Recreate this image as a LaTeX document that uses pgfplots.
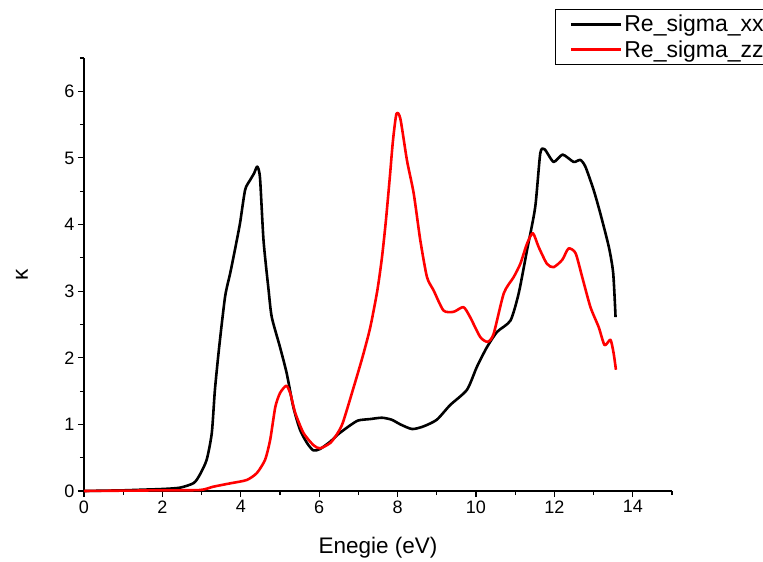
\documentclass[border=0pt]{standalone}
\usepackage{fontspec}
\setmainfont{Liberation Sans}
\usepackage{pgfplots}
\pgfplotsset{compat=1.18}

\begin{document}
\begin{tikzpicture}
\begin{axis}[
  scale only axis, width=588bp, height=433bp,
  xmin=0, xmax=15, ymin=0, ymax=6.5,
  axis x line*=bottom, axis y line*=left,
  axis line style={line width=1.1pt},
  xtick={0,2,...,14}, minor xtick={1,3,...,15},
  ytick={0,1,...,6}, minor ytick={0.5,1.5,...,6.5},
  tick align=outside, major tick length=6bp, minor tick length=4bp,
  every tick/.style={black, line width=1.1pt},
  /pgf/number format/assume math mode=true,
  tick label style={font=\fontsize{18bp}{20bp}\selectfont},
  label style={font=\fontsize{22.5bp}{26bp}\selectfont},
  xlabel={Enegie (eV)}, ylabel={κ},
  xlabel style={at={(axis description cs:0.5,0)}, anchor=center, yshift=-57bp},
  ylabel style={at={(axis description cs:0,0.5)}, anchor=center, yshift=62bp},
  clip=false,
  legend style={at={(0.801,1.114)}, anchor=north west, draw=black, line width=0.8pt,
    font=\fontsize{23bp}{27bp}\selectfont, inner xsep=14bp, inner ysep=4bp,
    row sep=3.5bp},
  legend cell align=left,
  legend image code/.code={\draw[#1, line width=3bp] (0bp,0bp) -- (50bp,0bp);},
]
\addplot[black, line width=2.6pt, line join=round, smooth, tension=0.4] coordinates {
(0,0.0)(0.5,0.005)(1,0.01)(1.5,0.02)(2,0.03)(2.45,0.05)(2.8,0.12)(2.96,0.25)
(3.13,0.47)(3.26,0.87)(3.34,1.52)(3.45,2.17)(3.6,2.92)(3.73,3.27)(3.85,3.62)
(3.98,4.02)(4.11,4.52)(4.24,4.67)(4.34,4.77)(4.42,4.87)(4.49,4.7)(4.58,3.76)
(4.71,3.01)(4.79,2.61)(5.0,2.16)(5.17,1.77)(5.34,1.26)(5.51,0.92)(5.69,0.72)
(5.85,0.61)(6.02,0.63)(6.28,0.74)(6.5,0.86)(6.8,0.99)(7.0,1.06)(7.3,1.08)
(7.6,1.1)(7.85,1.07)(8.07,1.0)(8.37,0.93)(8.66,0.97)(9.0,1.07)(9.34,1.29)
(9.77,1.52)(10.02,1.86)(10.28,2.16)(10.54,2.39)(10.88,2.56)(11.09,2.97)
(11.3,3.61)(11.51,4.26)(11.64,5.07)(11.75,5.13)(11.98,4.94)(12.21,5.05)
(12.49,4.94)(12.66,4.97)(12.79,4.87)(13.0,4.52)(13.17,4.17)(13.39,3.66)
(13.5,3.27)(13.56,2.61)
};
\addlegendentry{Re\_sigma\_xx}
\addplot[red, line width=2.6pt, line join=round, smooth, tension=0.4] coordinates {
(0,0)(1,0.005)(2,0.01)(2.96,0.015)(3.3,0.065)(3.73,0.115)(4.15,0.165)(4.41,0.27)
(4.62,0.47)(4.75,0.77)(4.88,1.26)(5.0,1.47)(5.16,1.58)(5.26,1.47)(5.39,1.17)
(5.6,0.87)(5.85,0.69)(6.02,0.64)(6.28,0.72)(6.45,0.85)(6.6,1.02)(6.85,1.5)
(7.1,2.0)(7.3,2.45)(7.48,3.0)(7.6,3.5)(7.7,4.05)(7.8,4.7)(7.88,5.25)(7.97,5.66)
(8.07,5.59)(8.24,4.96)(8.41,4.47)(8.58,3.76)(8.75,3.21)(8.92,3.01)(9.17,2.71)
(9.43,2.69)(9.68,2.76)(9.85,2.61)(10.11,2.31)(10.3,2.24)(10.45,2.36)(10.71,2.97)
(10.96,3.21)(11.13,3.41)(11.3,3.71)(11.45,3.87)(11.6,3.66)(11.81,3.41)
(11.98,3.36)(12.2,3.47)(12.36,3.64)(12.54,3.57)(12.71,3.21)(12.92,2.76)
(13.13,2.46)(13.28,2.19)(13.43,2.27)(13.51,2.07)(13.57,1.82)
};
\addlegendentry{Re\_sigma\_zz}
\end{axis}
\pgfresetboundingbox
\path[use as bounding box] (-84bp,-71bp) rectangle (679bp,491bp);
\end{tikzpicture}
\end{document}
